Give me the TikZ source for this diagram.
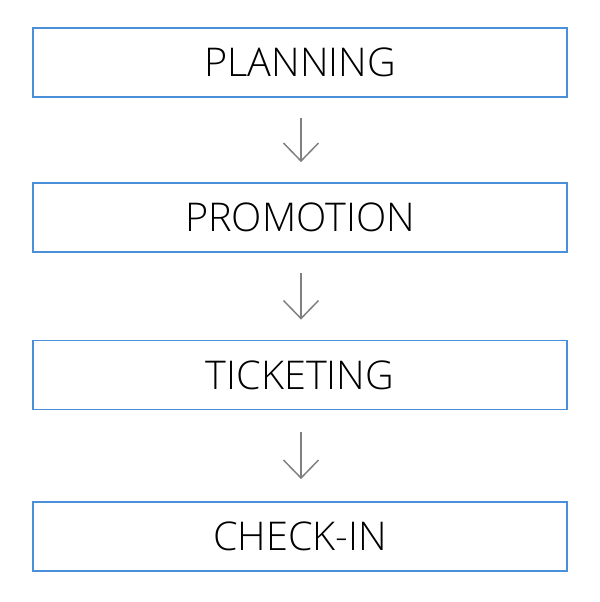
\documentclass[tikz,border=0pt]{standalone}
\usepackage{fontspec}
\setmainfont{Open Sans Light}
\usetikzlibrary{arrows.meta}
\definecolor{boxblue}{HTML}{4A8FD9}
\definecolor{arrgray}{HTML}{808080}
\begin{document}
\begin{tikzpicture}[x=1bp,y=-1bp,
  stage/.style={draw=boxblue,line width=1.8bp,minimum width=534bp,minimum height=69bp,inner sep=0pt,font=\fontsize{39.6bp}{40bp}\selectfont,text=black},
  flow/.style={draw=arrgray,line width=1.5bp,-{Straight Barb[length=18bp,width=35bp,line width=1.5bp]}}]
\useasboundingbox (0,0) rectangle (600,602);
\node[stage] (a) at (300,62.5) {PLANNING};
\node[stage] (b) at (300,217.5) {PROMOTION};
\node[stage] (c) at (300,375) {TICKETING};
\node[stage] (d) at (300,536.5) {CHECK-IN};
\draw[flow] ([xshift=1bp,yshift=-20bp]a.south) -- ([xshift=1bp,yshift=20bp]b.north);
\draw[flow] ([xshift=1bp,yshift=-20bp]b.south) -- ([xshift=1bp,yshift=20bp]c.north);
\draw[flow] ([xshift=1bp,yshift=-22bp]c.south) -- ([xshift=1bp,yshift=22bp]d.north);
\end{tikzpicture}
\end{document}
